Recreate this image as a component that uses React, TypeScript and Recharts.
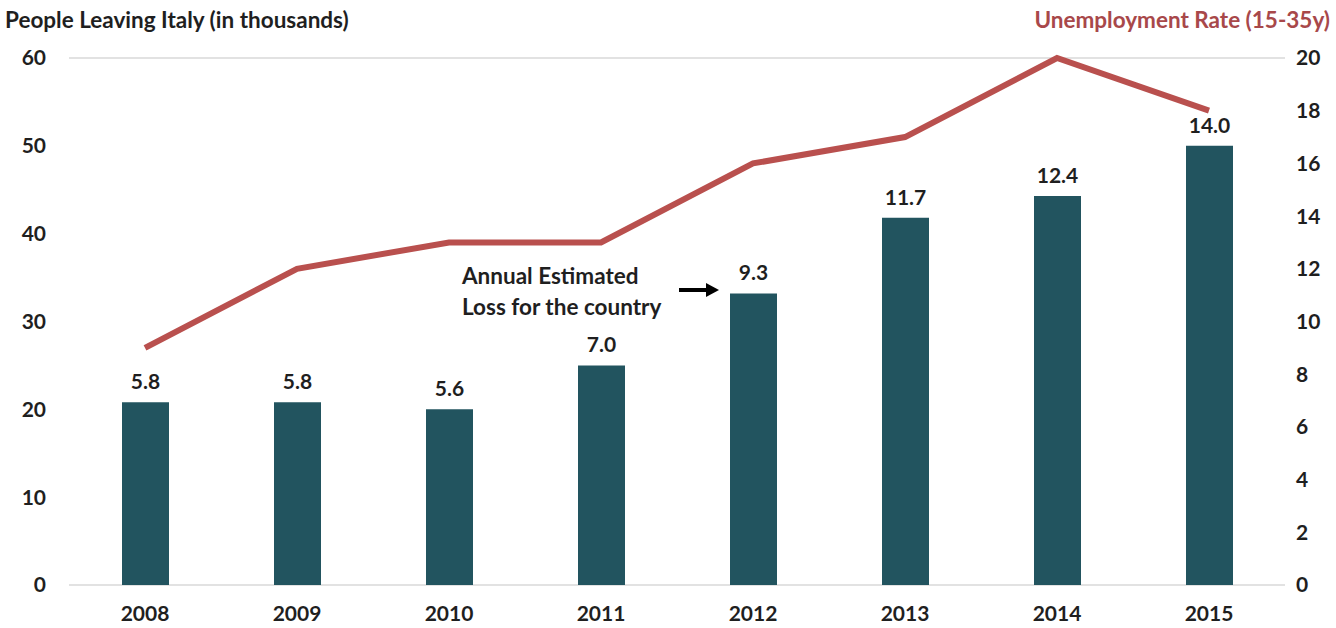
import React from "react";
import {
  ComposedChart,
  Bar,
  Line,
  XAxis,
  YAxis,
  CartesianGrid,
  LabelList,
} from "recharts";

// ── data ──────────────────────────────────────────────────────────────────────
const years = ["2008", "2009", "2010", "2011", "2012", "2013", "2014", "2015"];
const peopleLeaving = [20.8, 20.8, 20.0, 25.0, 33.2, 41.8, 44.3, 50.0];
const estimatedLoss = ["5.8", "5.8", "5.6", "7.0", "9.3", "11.7", "12.4", "14.0"];
const unemployment = [9, 12, 13, 13, 16, 17, 20, 18];
const leftTicks = [0, 10, 20, 30, 40, 50, 60];
const rightTicks = [0, 2, 4, 6, 8, 10, 12, 14, 16, 18, 20];

const data = years.map((year, i) => ({
  year,
  people: peopleLeaving[i],
  loss: estimatedLoss[i],
  rate: unemployment[i],
}));

const FONT = "Lato, 'Open Sans', sans-serif";
const TEXT = "#1f1f1f";
const BAR = "#22545f";
const LINE = "#b9504e";

const tickStyle = { fill: TEXT, fontSize: 21, fontWeight: 700, fontFamily: FONT };

export default function App() {
  return (
    <div
      style={{
        position: "absolute",
        left: 0,
        top: 0,
        width: 1336,
        height: 628,
        background: "#fff",
        fontFamily: FONT,
      }}
    >
      <ComposedChart
        width={1336}
        height={628}
        data={data}
        margin={{ top: 58, right: 0, bottom: 0, left: 0 }}
      >
        <CartesianGrid vertical={false} stroke="#d9d9d9" strokeWidth={1.5} />
        <XAxis
          dataKey="year"
          height={43}
          axisLine={false}
          tickLine={false}
          tick={tickStyle}
          tickMargin={15}
        />
        <YAxis
          yAxisId="left"
          width={69}
          domain={[0, 60]}
          ticks={leftTicks}
          axisLine={false}
          tickLine={false}
          tick={tickStyle}
          tickMargin={17}
        />
        <YAxis
          yAxisId="right"
          orientation="right"
          width={51}
          domain={[0, 20]}
          ticks={rightTicks}
          axisLine={false}
          tickLine={false}
          tick={{ ...tickStyle, textAnchor: "start" }}
          tickMargin={5}
        />
        <Bar
          yAxisId="left"
          dataKey="people"
          fill={BAR}
          barSize={47}
          isAnimationActive={false}
        >
          <LabelList
            dataKey="loss"
            position="top"
            offset={13}
            style={{ fill: TEXT, fontSize: 21, fontWeight: 700, fontFamily: FONT }}
          />
        </Bar>
        <Line
          yAxisId="right"
          dataKey="rate"
          stroke={LINE}
          strokeWidth={6}
          dot={false}
          type="linear"
          isAnimationActive={false}
        />
      </ComposedChart>

      {/* títulos dos eixos */}
      <div
        style={{
          position: "absolute",
          left: 5,
          top: 6,
          fontSize: 22.5,
          fontWeight: 700,
          color: TEXT,
          whiteSpace: "nowrap",
        }}
      >
        People Leaving Italy (in thousands)
      </div>
      <div
        style={{
          position: "absolute",
          right: 6,
          top: 6,
          fontSize: 22.5,
          fontWeight: 700,
          color: "#a8484a",
          whiteSpace: "nowrap",
        }}
      >
        Unemployment Rate (15-35y)
      </div>

      {/* anotação */}
      <div
        style={{
          position: "absolute",
          left: 462,
          top: 260,
          fontSize: 22.5,
          fontWeight: 700,
          lineHeight: "31px",
          color: TEXT,
          whiteSpace: "nowrap",
        }}
      >
        Annual Estimated
        <br />
        Loss for the country
      </div>
      <svg
        style={{ position: "absolute", left: 676, top: 280 }}
        width={46}
        height={20}
      >
        <line x1={3} y1={10} x2={32} y2={10} stroke="#000" strokeWidth={4} />
        <polygon points="30,3 43,10 30,17" fill="#000" />
      </svg>
    </div>
  );
}
